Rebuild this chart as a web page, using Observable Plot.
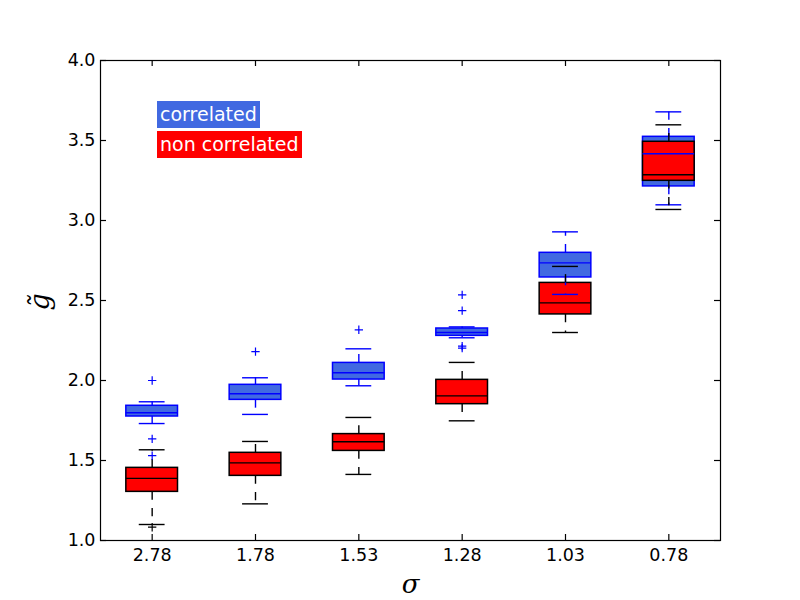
<!DOCTYPE html>
<html>
<head>
<meta charset="utf-8">
<script src="https://cdn.jsdelivr.net/npm/d3@7"></script>
<script src="https://cdn.jsdelivr.net/npm/@observablehq/plot@0.6"></script>
<style>
  html, body { margin: 0; padding: 0; background: #fff; }
  #wrap { position: relative; width: 800px; height: 600px; }
  .leg { position: absolute; left: 157px; color: #fff; font-family: "DejaVu Sans", sans-serif;
         font-size: 19px; line-height: 25px; padding: 1px 3px; white-space: nowrap; }
</style>
</head>
<body>
<div id="wrap"></div>
<script>
// ---- data ----
const sigmaLabels = ["2.78", "1.78", "1.53", "1.28", "1.03", "0.78"];
const positions = [1, 2, 3, 4, 5, 6];
const yTicks = [1.0, 1.5, 2.0, 2.5, 3.0, 3.5, 4.0];

// correlated series
const corrLow  = [1.731, 1.788, 1.967, 2.267, 2.538, 3.098];
const corrQ1   = [1.775, 1.879, 2.006, 2.279, 2.644, 3.213];
const corrMed  = [1.798, 1.917, 2.048, 2.300, 2.735, 3.417];
const corrQ3   = [1.842, 1.973, 2.110, 2.325, 2.798, 3.523];
const corrHigh = [1.867, 2.017, 2.198, 2.335, 2.929, 3.679];
const corrFliers = [[2.0, 1.635, 1.530], [2.181], [2.317], [2.535, 2.437, 2.215, 2.202], [], []];

// non correlated series
const nonLow  = [1.100, 1.229, 1.413, 1.748, 2.300, 3.069];
const nonQ1   = [1.304, 1.404, 1.560, 1.852, 2.413, 3.248];
const nonMed  = [1.388, 1.485, 1.617, 1.904, 2.485, 3.286];
const nonQ3   = [1.454, 1.548, 1.665, 2.004, 2.610, 3.492];
const nonHigh = [1.567, 1.619, 1.769, 2.113, 2.713, 3.598];
const nonFliers = [[1.083], [], [], [], [], []];

// ---- build tables ----
const HALF = 0.25, CAP = 0.125;
function table(low, q1, med, q3, high) {
  return positions.map((p, i) => ({p, low: low[i], q1: q1[i], med: med[i], q3: q3[i], high: high[i]}));
}
function flierRows(fl) {
  const out = [];
  fl.forEach((arr, i) => arr.forEach(v => out.push({p: positions[i], v})));
  return out;
}
const corr = table(corrLow, corrQ1, corrMed, corrQ3, corrHigh);
const non = table(nonLow, nonQ1, nonMed, nonQ3, nonHigh);
const corrF = flierRows(corrFliers);
const nonF = flierRows(nonFliers);

function lines(data, color) {
  const dash = "8.3,8.3";
  return [
    Plot.ruleX(data, {x: "p", y1: "q1", y2: "low", stroke: color, strokeWidth: 1.4, strokeDasharray: dash}),
    Plot.ruleX(data, {x: "p", y1: "q3", y2: "high", stroke: color, strokeWidth: 1.4, strokeDasharray: dash}),
    Plot.ruleY(data, {y: "low", x1: d => d.p - CAP, x2: d => d.p + CAP, stroke: color, strokeWidth: 1.4}),
    Plot.ruleY(data, {y: "high", x1: d => d.p - CAP, x2: d => d.p + CAP, stroke: color, strokeWidth: 1.4}),
    Plot.ruleY(data, {y: "med", x1: d => d.p - HALF, x2: d => d.p + HALF, stroke: color, strokeWidth: 1.4})
  ];
}

const W = 800, H = 600, ML = 100, MR = 80, MT = 60, MB = 60;
const innerW = W - ML - MR, innerH = H - MT - MB;
const TL = 6;

const chart = Plot.plot({
  width: W, height: H,
  marginLeft: ML, marginRight: MR, marginTop: MT, marginBottom: MB,
  style: {fontFamily: "DejaVu Sans, sans-serif", fontSize: "17.5px", background: "white", color: "black"},
  x: {domain: [0.5, 6.5], axis: null},
  y: {domain: [1.0, 4.0], axis: null},
  marks: [
    // boxes (patches under lines)
    Plot.rect(corr, {x1: d => d.p - HALF, x2: d => d.p + HALF, y1: "q1", y2: "q3", fill: "#4169E1", stroke: "#0000FF", strokeWidth: 1.5}),
    Plot.rect(non, {x1: d => d.p - HALF, x2: d => d.p + HALF, y1: "q1", y2: "q3", fill: "#FF0000", stroke: "#000000", strokeWidth: 1.5}),
    ...lines(corr, "#0000FF"),
    ...lines(non, "#000000"),
    Plot.dot(corrF, {x: "p", y: "v", symbol: "plus", r: 2.8, stroke: "#0000FF", strokeWidth: 1.2}),
    Plot.dot(nonF, {x: "p", y: "v", symbol: "plus", r: 2.8, stroke: "#000000", strokeWidth: 1.2}),
    // inward ticks
    Plot.tickY(yTicks, {y: d => d, insetRight: innerW - TL, stroke: "black", strokeWidth: 1.2}),
    Plot.tickY(yTicks, {y: d => d, insetLeft: innerW - TL, stroke: "black", strokeWidth: 1.2}),
    Plot.tickX(positions, {x: d => d, insetTop: innerH - TL, stroke: "black", strokeWidth: 1.2}),
    Plot.tickX(positions, {x: d => d, insetBottom: innerH - TL, stroke: "black", strokeWidth: 1.2}),
    // tick labels
    Plot.axisY(yTicks, {anchor: "left", tickSize: 0, tickPadding: 5, tickFormat: d3.format(".1f"), label: null, fontSize: 17.5}),
    Plot.axisX(positions, {anchor: "bottom", tickSize: 0, tickPadding: 8, tickFormat: d => sigmaLabels[d - 1], label: null, fontSize: 17.5}),
    // axis labels
    Plot.text(["σ"], {frameAnchor: "bottom", dy: 52, text: d => d, fontFamily: "DejaVu Serif, serif", fontStyle: "italic", fontSize: 26, fill: "black"}),
    Plot.text(["g\u0303"], {frameAnchor: "left", dx: -60, dy: 10, rotate: -90, text: d => d, fontFamily: "DejaVu Serif, serif", fontStyle: "italic", fontSize: 27, fill: "black"}),
    Plot.frame({stroke: "black", strokeWidth: 1.2})
  ]
});

const wrap = document.getElementById("wrap");
wrap.appendChild(chart);
const l1 = document.createElement("div");
l1.className = "leg"; l1.style.top = "101px"; l1.style.background = "#4169E1"; l1.textContent = "correlated";
const l2 = document.createElement("div");
l2.className = "leg"; l2.style.top = "131px"; l2.style.background = "#FF0000"; l2.textContent = "non correlated";
wrap.appendChild(l1); wrap.appendChild(l2);
</script>
</body>
</html>
